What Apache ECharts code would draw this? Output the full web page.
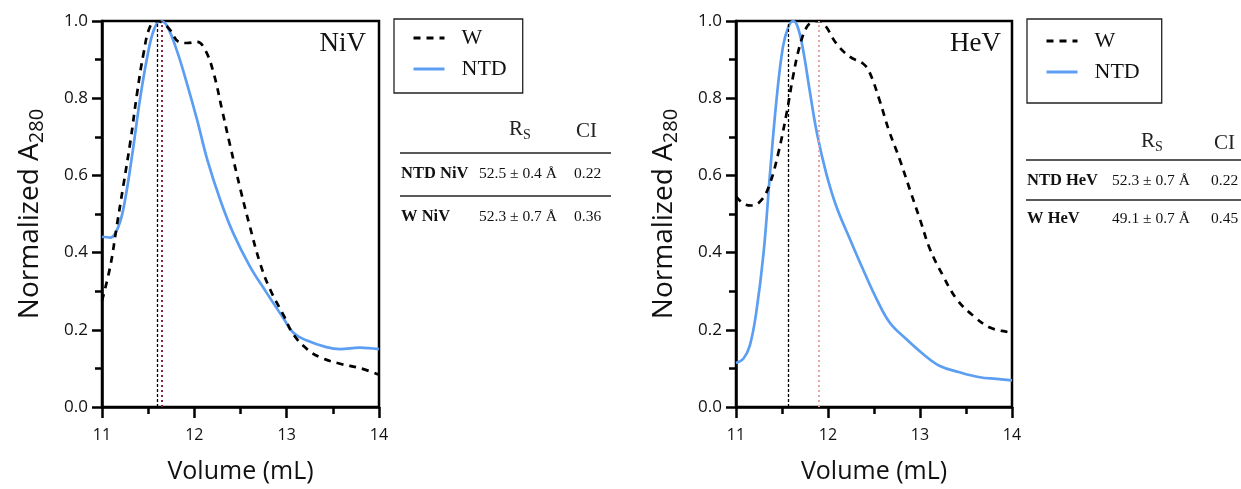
<!DOCTYPE html>
<html>
<head>
<meta charset="utf-8">
<script src="https://cdn.jsdelivr.net/npm/echarts@6/dist/echarts.min.js"></script>
<style>
  html, body { margin: 0; padding: 0; background: #fff; }
  #main { width: 1241px; height: 489px; }
</style>
</head>
<body>
<div id="main"></div>
<script>
// NiV elution profiles (volume mL, normalized A280)
var nivNtdX = [11.0, 11.09, 11.18, 11.25, 11.34, 11.41, 11.49, 11.56, 11.63, 11.70, 11.81, 11.92, 12.03, 12.14, 12.28, 12.42, 12.60, 12.78, 12.97, 13.07, 13.22, 13.43, 13.58, 13.79, 14.0];
var nivNtdY = [0.441, 0.439, 0.469, 0.537, 0.675, 0.795, 0.907, 0.976, 1.0, 0.989, 0.924, 0.838, 0.744, 0.641, 0.537, 0.451, 0.365, 0.297, 0.228, 0.193, 0.172, 0.155, 0.150, 0.154, 0.150];
var nivWX = [11.0, 11.09, 11.16, 11.23, 11.31, 11.38, 11.45, 11.52, 11.60, 11.67, 11.74, 11.83, 11.92, 12.03, 12.12, 12.21, 12.30, 12.39, 12.50, 12.60, 12.71, 12.82, 12.97, 13.07, 13.22, 13.36, 13.58, 13.79, 14.0];
var nivWY = [0.275, 0.365, 0.469, 0.572, 0.692, 0.813, 0.916, 0.985, 1.0, 0.993, 0.976, 0.946, 0.943, 0.946, 0.924, 0.864, 0.770, 0.675, 0.563, 0.469, 0.374, 0.305, 0.236, 0.189, 0.150, 0.129, 0.112, 0.101, 0.084];

// HeV elution profiles
var hevNtdX = [11.0, 11.08, 11.15, 11.22, 11.30, 11.37, 11.44, 11.51, 11.57, 11.62, 11.67, 11.73, 11.80, 11.88, 11.98, 12.09, 12.24, 12.38, 12.53, 12.67, 12.85, 13.03, 13.21, 13.43, 13.65, 13.83, 14.0];
var hevNtdY = [0.114, 0.125, 0.159, 0.245, 0.400, 0.606, 0.795, 0.933, 0.985, 1.0, 0.985, 0.924, 0.821, 0.709, 0.606, 0.520, 0.434, 0.357, 0.279, 0.219, 0.176, 0.138, 0.107, 0.090, 0.077, 0.073, 0.069];
var hevWX = [11.0, 11.08, 11.17, 11.28, 11.37, 11.46, 11.55, 11.62, 11.69, 11.77, 11.84, 11.91, 11.98, 12.09, 12.24, 12.38, 12.45, 12.56, 12.66, 12.78, 12.89, 13.00, 13.11, 13.25, 13.40, 13.58, 13.76, 13.97, 14.0];
var hevWY = [0.546, 0.527, 0.522, 0.537, 0.580, 0.658, 0.761, 0.856, 0.933, 0.985, 0.998, 1.0, 0.985, 0.942, 0.907, 0.890, 0.868, 0.795, 0.718, 0.641, 0.563, 0.486, 0.408, 0.340, 0.279, 0.236, 0.206, 0.193, 0.191];

// peak positions (dotted markers)
var nivPeaks = [11.60, 11.65];
var hevPeaks = [11.57, 11.90];

// R_S / CI tables
var tableHeader = ['R', 'S', 'CI'];
var nivRows = [['NTD NiV', '52.5 ± 0.4 Å', '0.22'], ['W NiV', '52.3 ± 0.7 Å', '0.36']];
var hevRows = [['NTD HeV', '52.3 ± 0.7 Å', '0.22'], ['W HeV', '49.1 ± 0.7 Å', '0.45']];

var BLUE = '#5b9ef2';

function zip(xs, ys) {
    return xs.map(function (x, i) { return [x, ys[i]]; });
}

function xAx(idx) {
    return {
        type: 'value', gridIndex: idx, min: 11, max: 14, interval: 1,
        name: 'Volume (mL)', nameLocation: 'middle', nameGap: 52,
        nameTextStyle: {fontFamily: 'Open Sans', fontSize: 25, color: '#111'},
        axisLine: {lineStyle: {color: '#000', width: 2.5}},
        axisTick: {length: 11, lineStyle: {width: 2.5, color: '#000'}},
        minorTick: {show: true, splitNumber: 2, length: 7, lineStyle: {width: 2.5, color: '#000'}},
        axisLabel: {margin: 20, fontFamily: 'Open Sans', fontSize: 16, color: '#111'},
        splitLine: {show: false}
    };
}

function yAx(idx) {
    return {
        type: 'value', gridIndex: idx, min: 0, max: 1, interval: 0.2,
        name: '{a|Normalized A}{s|280}', nameLocation: 'middle', nameGap: 55, nameRotate: 90,
        nameTextStyle: {
            color: '#111',
            rich: {
                a: {fontFamily: 'Open Sans', fontSize: 28, lineHeight: 34, color: '#111'},
                s: {fontFamily: 'Open Sans', fontSize: 20, lineHeight: 16, verticalAlign: 'bottom', color: '#111'}
            }
        },
        axisLine: {lineStyle: {color: '#000', width: 2.5}},
        axisTick: {length: 10, lineStyle: {width: 2.5, color: '#000'}},
        minorTick: {show: true, splitNumber: 2, length: 7, lineStyle: {width: 2.5, color: '#000'}},
        axisLabel: {margin: 14, fontFamily: 'Open Sans', fontSize: 17, color: '#111',
            formatter: function (v) { return v.toFixed(1); }},
        splitLine: {show: false}
    };
}

function curves(idx, wX, wY, nX, nY, peaks, peakColor) {
    return [
        {
            name: 'W', type: 'line', xAxisIndex: idx, yAxisIndex: idx, smooth: 0.4,
            symbol: 'none', data: zip(wX, wY), z: 3,
            lineStyle: {color: '#000', width: 2.7, type: [7, 6]},
            itemStyle: {color: '#000'},
            markLine: {
                silent: true, symbol: 'none', label: {show: false},
                lineStyle: {color: '#000', width: 1.3, type: [3, 2]},
                data: [{xAxis: peaks[0]}]
            }
        },
        {
            name: 'NTD', type: 'line', xAxisIndex: idx, yAxisIndex: idx, smooth: 0.4,
            symbol: 'none', data: zip(nX, nY), z: 2,
            lineStyle: {color: BLUE, width: 2.7},
            itemStyle: {color: BLUE},
            markLine: {
                silent: true, symbol: 'none', label: {show: false},
                lineStyle: {color: peakColor, width: 2, type: [2, 3]},
                data: [{xAxis: peaks[1]}]
            }
        }
    ];
}

function legendAt(idx, left, top, pad) {
    return {
        seriesIndex: idx, orient: 'vertical', left: left, top: top,
        data: ['W', 'NTD'],
        borderColor: '#222', borderWidth: 1.3, borderRadius: 0,
        padding: pad,
        itemWidth: 31, itemHeight: 14, itemGap: 9,
        itemStyle: {opacity: 0},
        lineStyle: {width: 3},
        textStyle: {fontFamily: 'Liberation Serif', fontSize: 22, color: '#111', padding: [0, 0, 0, 12]}
    };
}

function table(x0, x1, yHead, yL1, yR1, yL2, yR2, rows, cols) {
    var els = [];
    var lineStyle = {stroke: '#222', lineWidth: 1.5};
    els.push({type: 'text', left: cols[3], top: yHead - 14, style: {
        text: '{r|' + tableHeader[0] + '}{s|' + tableHeader[1] + '}',
        rich: {
            r: {fontFamily: 'Liberation Serif', fontSize: 21, lineHeight: 26, fill: '#222'},
            s: {fontFamily: 'Liberation Serif', fontSize: 14, lineHeight: 14, verticalAlign: 'bottom', fill: '#222'}
        }
    }});
    els.push({type: 'text', left: cols[4], top: yHead - 12, style: {
        text: tableHeader[2], fontFamily: 'Liberation Serif', fontSize: 21, fill: '#222'}});
    els.push({type: 'line', shape: {x1: x0, y1: yL1, x2: x1, y2: yL1}, style: lineStyle});
    els.push({type: 'line', shape: {x1: x0, y1: yL2, x2: x1, y2: yL2}, style: lineStyle});
    [yR1, yR2].forEach(function (y, i) {
        var r = rows[i];
        els.push({type: 'text', left: cols[0], top: y - 10, style: {
            text: r[0], fontFamily: 'Liberation Serif', fontWeight: 'bold', fontSize: 16.5, fill: '#111'}});
        els.push({type: 'text', left: cols[1], top: y - 9, style: {
            text: r[1], fontFamily: 'Liberation Serif', fontSize: 15.5, fill: '#111'}});
        els.push({type: 'text', left: cols[2], top: y - 9, style: {
            text: r[2], fontFamily: 'Liberation Serif', fontSize: 15.5, fill: '#111'}});
    });
    return els;
}

var titleStyle = {fontFamily: 'Liberation Serif', fontSize: 27, fontWeight: 'normal', color: '#111'};

var option = {
    animation: false,
    backgroundColor: '#fff',
    title: [
        {text: 'NiV', right: 1241 - 366, top: 30, padding: 0, textStyle: titleStyle},
        {text: 'HeV', right: 1241 - 1001, top: 30, padding: 0, textStyle: titleStyle}
    ],
    grid: [
        {left: 102, top: 21, width: 277, height: 387, show: true, borderColor: '#000', borderWidth: 2.5},
        {left: 736, top: 21, width: 276, height: 387, show: true, borderColor: '#000', borderWidth: 2.5}
    ],
    xAxis: [xAx(0), xAx(1)],
    yAxis: [yAx(0), yAx(1)],
    legend: [
        legendAt([0, 1], 394, 19, [8, 16, 13, 18]),
        legendAt([2, 3], 1027, 19, [11, 22, 20, 18])
    ],
    series: [].concat(
        curves(0, nivWX, nivWY, nivNtdX, nivNtdY, nivPeaks, '#8b2040'),
        curves(1, hevWX, hevWY, hevNtdX, hevNtdY, hevPeaks, '#e8a3a8')
    ),
    graphic: [].concat(
        table(400, 611, 133, 153, 175, 196, 218, nivRows, [401, 479, 574, 509, 576]),
        table(1026, 1241, 145, 160, 182, 200, 220, hevRows, [1027, 1112, 1211, 1141, 1214])
    )
};

var chart = echarts.init(document.getElementById('main'));
chart.setOption(option);
</script>
</body>
</html>
